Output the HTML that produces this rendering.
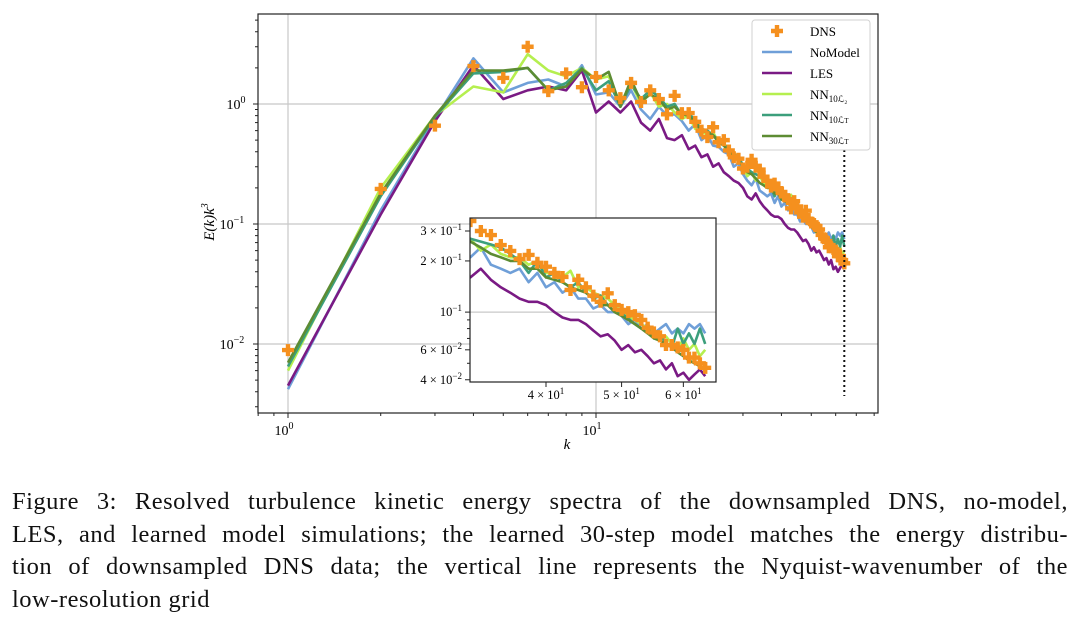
<!DOCTYPE html>
<html><head><meta charset="utf-8">
<style>
body{margin:0;background:#fff;width:1080px;height:618px;overflow:hidden;font-family:"Liberation Serif",serif}
#cap{position:absolute;left:12px;top:486px;width:1056px;font-size:24.5px;letter-spacing:0.5px;line-height:32.5px;color:#111}
#cap div{text-align:justify;text-align-last:justify;white-space:nowrap}
#cap div.last{text-align-last:left}
</style></head><body>
<svg id="chart" width="1080" height="480" style="position:absolute;left:0;top:0" font-family="Liberation Serif, serif"></svg>
<div id="cap"><div>Figure 3: Resolved turbulence kinetic energy spectra of the downsampled DNS, no-model,</div><div>LES, and learned model simulations; the learned 30-step model matches the energy distribu-</div><div>tion of downsampled DNS data; the vertical line represents the Nyquist-wavenumber of the</div><div class="last">low-resolution grid</div></div>
<script>
const dns=[0.0089,0.196,0.66,2.07,1.65,3.0,1.28,1.8,1.38,1.68,1.3,1.12,1.5,1.04,1.3,1.1,0.82,1.17,0.84,0.84,0.71,0.6,0.53,0.64,0.48,0.5,0.41,0.36,0.35,0.29,
0.30,0.343,0.30,0.284,0.248,0.229,0.205,0.217,0.195,0.185,0.17,0.161,0.135,0.155,0.14,0.125,0.115,0.129,0.11,0.103,0.1,0.096,0.09,0.081,0.076,0.072,0.064,0.064,0.062,0.060,0.054,0.054,0.050,0.047];
const noModel=[0.0042,0.13,0.75,2.4,1.25,1.5,1.6,1.4,2.1,1.2,1.25,0.95,1.3,0.9,0.75,0.95,0.8,0.82,0.72,0.6,0.68,0.5,0.55,0.45,0.44,0.4,0.38,0.3,0.32,0.26,
0.23,0.21,0.24,0.19,0.18,0.17,0.18,0.15,0.17,0.14,0.15,0.13,0.14,0.12,0.12,0.105,0.11,0.1,0.1,0.095,0.085,0.09,0.08,0.085,0.075,0.08,0.085,0.075,0.08,0.075,0.085,0.08,0.085,0.075];
const les=[0.0045,0.12,0.72,2.1,1.1,1.3,1.4,1.3,1.9,0.85,1.05,0.85,1.05,0.7,0.6,0.75,0.52,0.5,0.55,0.42,0.45,0.36,0.38,0.3,0.32,0.27,0.25,0.23,0.22,0.2,
0.17,0.16,0.18,0.155,0.14,0.13,0.12,0.115,0.115,0.11,0.1,0.093,0.09,0.09,0.085,0.078,0.072,0.074,0.068,0.06,0.064,0.058,0.06,0.055,0.05,0.052,0.046,0.05,0.042,0.044,0.04,0.043,0.046,0.042];
const nn10L2=[0.006,0.2,0.8,1.4,1.25,2.6,1.9,1.7,2.0,1.6,1.7,1.0,1.5,1.0,1.25,0.95,1.0,0.85,0.75,0.8,0.62,0.6,0.55,0.58,0.48,0.48,0.4,0.4,0.34,0.3,
0.25,0.27,0.23,0.25,0.22,0.21,0.21,0.19,0.2,0.17,0.17,0.16,0.175,0.14,0.14,0.13,0.125,0.12,0.11,0.1,0.095,0.09,0.085,0.08,0.078,0.07,0.072,0.065,0.06,0.07,0.06,0.065,0.055,0.06];
const nn10LT=[0.0065,0.17,0.78,1.8,1.85,2.0,1.3,1.5,2.0,1.3,1.55,0.95,1.45,1.1,1.3,1.15,0.95,1.0,0.8,0.85,0.72,0.62,0.6,0.55,0.5,0.46,0.42,0.38,0.36,0.31,
0.29,0.27,0.26,0.25,0.24,0.22,0.2,0.17,0.2,0.16,0.17,0.15,0.14,0.15,0.13,0.12,0.125,0.11,0.1,0.098,0.092,0.085,0.08,0.082,0.07,0.075,0.065,0.062,0.08,0.065,0.075,0.065,0.08,0.065];
const nn30LT=[0.007,0.18,0.8,1.9,1.9,2.0,1.3,1.4,1.95,1.6,1.85,0.95,1.6,1.05,1.2,1.1,0.9,0.95,0.82,0.8,0.7,0.6,0.58,0.55,0.48,0.45,0.4,0.37,0.34,0.3,
0.27,0.26,0.24,0.22,0.21,0.2,0.2,0.18,0.18,0.16,0.155,0.15,0.14,0.135,0.13,0.12,0.11,0.11,0.1,0.095,0.09,0.085,0.08,0.075,0.07,0.068,0.065,0.062,0.058,0.055,0.052,0.05,0.048,0.046];
const nyquistK=64;
const insetXTicks=[40,50,60];
const insetXLabels=["4 × 10","5 × 10","6 × 10"];
const insetYTicks=[0.3,0.2,0.1,0.06,0.04];
const insetYLabels=[["3 × 10","−1"],["2 × 10","−1"],["10","−1"],["6 × 10","−2"],["4 × 10","−2"]];

const NS="http://www.w3.org/2000/svg";
const svg=document.getElementById('chart');
function mk(tag,attrs,parent){const e=document.createElementNS(NS,tag);for(const k in attrs)e.setAttribute(k,attrs[k]);(parent||svg).appendChild(e);return e;}
const L=Math.log10;
const mx=k=>288+308*L(k), my=v=>104-120*L(v);
const AX={x0:258,x1:878,y0:14,y1:413};
const ix=k=>546+780*(L(k)-L(40)), iy=v=>231-170*(L(v)-L(0.3));
const IN={x0:470,x1:716,y0:218,y1:382};

const series=[
 {d:noModel,c:"#6f9fd8",n:"NoModel"},
 {d:les,c:"#7a1a84",n:"LES"},
 {d:nn10L2,c:"#b5ef4f",n:"NN10L2"},
 {d:nn10LT,c:"#3c9f7c",n:"NN10LT"},
 {d:nn30LT,c:"#5d8c33",n:"NN30LT"}];

function drawAxes(g,X,Y,B,main){
  const gg=mk('g',{},g);
  
  
  if(main){
    [1,10].forEach(k=>mk('line',{x1:X(k),x2:X(k),y1:B.y0,y2:B.y1,stroke:"#c8c8c8","stroke-width":1.2},gg));
    [1,0.1,0.01].forEach(v=>mk('line',{x1:B.x0,x2:B.x1,y1:Y(v),y2:Y(v),stroke:"#c8c8c8","stroke-width":1.2},gg));
  } else {
    mk('line',{x1:B.x0,x2:B.x1,y1:Y(0.1),y2:Y(0.1),stroke:"#c8c8c8","stroke-width":1.2},gg);
  }
}
function drawSeries(g,X,Y,clip,pre){
  series.forEach(s=>{
    const pts=s.d.map((v,i)=>X(i+1).toFixed(1)+","+Y(v).toFixed(1)).join(" ");
    const p=mk('polyline',{points:pts,fill:"none",stroke:s.c,"stroke-width":2.6,"stroke-linejoin":"round","clip-path":clip},g);
    
    
  });
  const dg=mk('g',{fill:"#f5901e","clip-path":clip},g);
  
  
  dns.forEach((v,i)=>{
    const x=X(i+1),y=Y(v),a=6,b=2.2;
    const m=mk('path',{d:`M${x-b},${y-a}h${2*b}v${a-b}h${a-b}v${2*b}h${-(a-b)}v${a-b}h${-2*b}v${-(a-b)}h${-(a-b)}v${-2*b}h${a-b}z`},dg);
    
    
  });
}
const defs=mk('defs',{});
const c1=mk('clipPath',{id:'cm'},defs);mk('rect',{x:AX.x0,y:AX.y0,width:AX.x1-AX.x0,height:AX.y1-AX.y0},c1);
const c2=mk('clipPath',{id:'ci'},defs);mk('rect',{x:IN.x0,y:IN.y0,width:IN.x1-IN.x0,height:IN.y1-IN.y0},c2);

const gm=mk('g',{});


drawAxes(gm,mx,my,AX,true);
drawSeries(gm,mx,my,"url(#cm)","");
const ny=mk('line',{x1:mx(nyquistK),x2:mx(nyquistK),y1:150,y2:396,stroke:"#111","stroke-width":2,"stroke-dasharray":"2,3"},gm);


mk('rect',{x:AX.x0,y:AX.y0,width:AX.x1-AX.x0,height:AX.y1-AX.y0,fill:"none",stroke:"#222","stroke-width":1.2},gm);
for(let d=-1;d<=1;d++)for(let m=1;m<10;m++){const k=m*Math.pow(10,d);const x=mx(k);if(x<AX.x0||x>AX.x1)continue;
 mk('line',{x1:x,x2:x,y1:AX.y1,y2:AX.y1+(m==1?5:3),stroke:"#222","stroke-width":1},gm);}
for(let d=-3;d<=1;d++)for(let m=1;m<10;m++){const v=m*Math.pow(10,d);const y=my(v);if(y<AX.y0||y>AX.y1)continue;
 mk('line',{x1:AX.x0-(m==1?5:3),x2:AX.x0,y1:y,y2:y,stroke:"#222","stroke-width":1},gm);}
[[1,"0"],[10,"1"]].forEach(([k,e])=>{const t=mk('text',{x:mx(k)-4,y:435,"font-size":14,"text-anchor":"middle"},gm);t.innerHTML='10<tspan dy="-6" font-size="10">'+e+'</tspan>';});
[[1,"0"],[0.1,"−1"],[0.01,"−2"]].forEach(([v,e])=>{const t=mk('text',{x:e=="0"?236:232,y:my(v)+5,"font-size":14,"text-anchor":"middle"},gm);t.innerHTML='10<tspan dy="-6" font-size="10">'+e+'</tspan>';});
const xl=mk('text',{x:567,y:449,"font-size":15,"font-style":"italic","text-anchor":"middle"},gm);xl.textContent="k";

const yl=mk('text',{x:0,y:0,"font-size":15,"font-style":"italic","text-anchor":"middle",transform:"translate(214,222) rotate(-90)"},gm);
yl.innerHTML='E(k)k<tspan dy="-6" font-size="10">3</tspan>';


const lg=mk('g',{},gm);


mk('rect',{x:752,y:20,width:118,height:130,rx:3,fill:"#fff",stroke:"#ccc","stroke-opacity":0.9},lg);
const lx=762;
{const y=31,x=lx+15;mk('path',{d:`M${x-2.2},${y-6}h4.4v3.8h3.8v4.4h-3.8v3.8h-4.4v-3.8h-3.8v-4.4h3.8z`,fill:"#f5901e"},lg);
 const t=mk('text',{x:810,y:36,"font-size":13},lg);t.textContent="DNS";}
const labs=["NoModel","LES",'NN<tspan font-size="9" dy="3">10ℒ₂</tspan>','NN<tspan font-size="9" dy="3">10ℒ<tspan font-size="7">T</tspan></tspan>','NN<tspan font-size="9" dy="3">30ℒ<tspan font-size="7">T</tspan></tspan>'];
series.forEach((s,i)=>{const y=52+i*21;
 const e=mk('line',{x1:lx,x2:lx+30,y1:y,y2:y,stroke:s.c,"stroke-width":2.6},lg);
 
 const t=mk('text',{x:810,y:y+5,"font-size":13},lg);t.innerHTML=labs[i];});

const gi=mk('g',{});


mk('rect',{x:IN.x0,y:IN.y0,width:IN.x1-IN.x0,height:IN.y1-IN.y0,fill:"#fff"},gi);
drawAxes(gi,ix,iy,IN,false);
drawSeries(gi,ix,iy,"url(#ci)","inset-");
mk('rect',{x:IN.x0,y:IN.y0,width:IN.x1-IN.x0,height:IN.y1-IN.y0,fill:"none",stroke:"#222","stroke-width":1.2},gi);
insetXTicks.forEach((k,i)=>{const x=ix(k);mk('line',{x1:x,x2:x,y1:IN.y1,y2:IN.y1+5,stroke:"#222"},gi);
 const t=mk('text',{x:x,y:399,"font-size":12.5,"text-anchor":"middle"},gi);t.innerHTML=insetXLabels[i]+'<tspan dy="-5" font-size="9">1</tspan>';
 });
insetYTicks.forEach((v,i)=>{const y=iy(v);mk('line',{x1:IN.x0-5,x2:IN.x0,y1:y,y2:y,stroke:"#222"},gi);
 const t=mk('text',{x:IN.x0-8,y:y+4,"font-size":12.5,"text-anchor":"end"},gi);t.innerHTML=insetYLabels[i][0]+'<tspan dy="-5" font-size="9">'+insetYLabels[i][1]+'</tspan>';
 });
[0.05,0.07,0.08,0.09].forEach(v=>{const y=iy(v);mk('line',{x1:IN.x0-3,x2:IN.x0,y1:y,y2:y,stroke:"#222"},gi);});
</script>
</body></html>
